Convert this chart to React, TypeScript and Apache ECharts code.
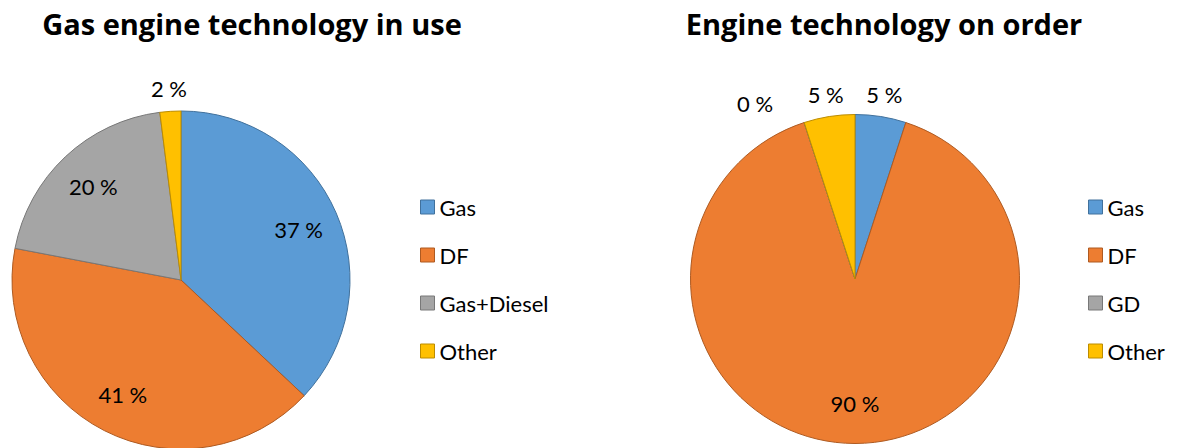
import React, { useEffect, useRef } from "react";
import * as echarts from "echarts";

const leftTitle = "Gas engine technology in use";
const rightTitle = "Engine technology on order";
const leftNames = ["Gas", "DF", "Gas+Diesel", "Other"];
const leftValues = [37, 41, 20, 2];
const rightNames = ["Gas", "DF", "GD", "Other"];
const rightValues = [5, 90, 0, 5];
const colors = ["#5B9BD5", "#ED7D31", "#A5A5A5", "#FFC000"];
const borders = ["#41719C", "#AE5A21", "#787878", "#BC8C00"];

const FONT = "Lato, 'Noto Sans', sans-serif";
const TITLE_FONT = "'Open Sans', Lato, sans-serif";
const INSIDE_RATIO = 0.74;
const OUTSIDE_RATIO = 1.12;
const INSIDE_MIN = 10;

function pieSeries(names: string[], values: number[], center: number[], r: number) {
  const visible = {
    type: "pie",
    center,
    radius: [0, r],
    startAngle: 90,
    clockwise: true,
    label: { show: false },
    labelLine: { show: false },
    silent: true,
    data: values.map((v, i) => ({
      name: names[i],
      value: v,
      itemStyle: { color: colors[i], borderColor: borders[i], borderWidth: 1 },
    })),
  };
  const labelSeries = (ratio: number, inside: boolean) => ({
    type: "pie",
    center,
    radius: [0, r * ratio * 2],
    startAngle: 90,
    clockwise: true,
    silent: true,
    avoidLabelOverlap: false,
    itemStyle: { color: "transparent", borderWidth: 0 },
    emphasis: { disabled: true },
    labelLine: { show: false },
    labelLayout: inside
      ? undefined
      : (params: any) =>
          values[params.dataIndex] === 0
            ? { dx: -(params.labelRect.width + 6), dy: 3 }
            : {},
    label: {
      position: "inside",
      formatter: "{c} %",
      color: "#000",
      fontFamily: FONT,
      fontSize: 22,
    },
    data: values.map((v, i) => ({
      name: names[i],
      value: v,
      label: { show: inside ? v >= INSIDE_MIN : v < INSIDE_MIN },
    })),
  });
  return [visible, labelSeries(INSIDE_RATIO, true), labelSeries(OUTSIDE_RATIO, false)];
}

function legendFor(names: string[], left: number) {
  return {
    orient: "vertical",
    left,
    top: 196,
    padding: 0,
    itemWidth: 14,
    itemHeight: 14,
    itemGap: 26,
    icon: "rect",
    textStyle: { fontFamily: FONT, fontSize: 22, color: "#000", lineHeight: 20 },
    selectedMode: false,
    data: names.map((n, i) => ({
      name: n,
      itemStyle: { color: colors[i], borderColor: borders[i], borderWidth: 1 },
    })),
  };
}

export default function App() {
  const ref = useRef<HTMLDivElement>(null);
  useEffect(() => {
    if (!ref.current) return;
    const chart = echarts.init(ref.current, undefined, { renderer: "svg" });
    const left = pieSeries(leftNames, leftValues, [181, 280], 169);
    const right = pieSeries(rightNames, rightValues, [855, 279], 164.5);
    const titleStyle = { fontFamily: TITLE_FONT, fontSize: 29, fontWeight: "bold", color: "#000" };
    chart.setOption({
      animation: false,
      backgroundColor: "#fff",
      title: [
        { text: leftTitle, left: 252, top: 9, padding: 0, textAlign: "center", textStyle: titleStyle },
        { text: rightTitle, left: 884, top: 9, padding: 0, textAlign: "center", textStyle: titleStyle },
      ],
      legend: [legendFor(leftNames, 420), legendFor(rightNames, 1088)],
      series: [left[0], right[0], left[1], left[2], right[1], right[2]],
    });
    return () => chart.dispose();
  }, []);
  return (
    <div
      ref={ref}
      style={{ position: "fixed", left: 0, top: 0, width: 1183, height: 448 }}
    />
  );
}
